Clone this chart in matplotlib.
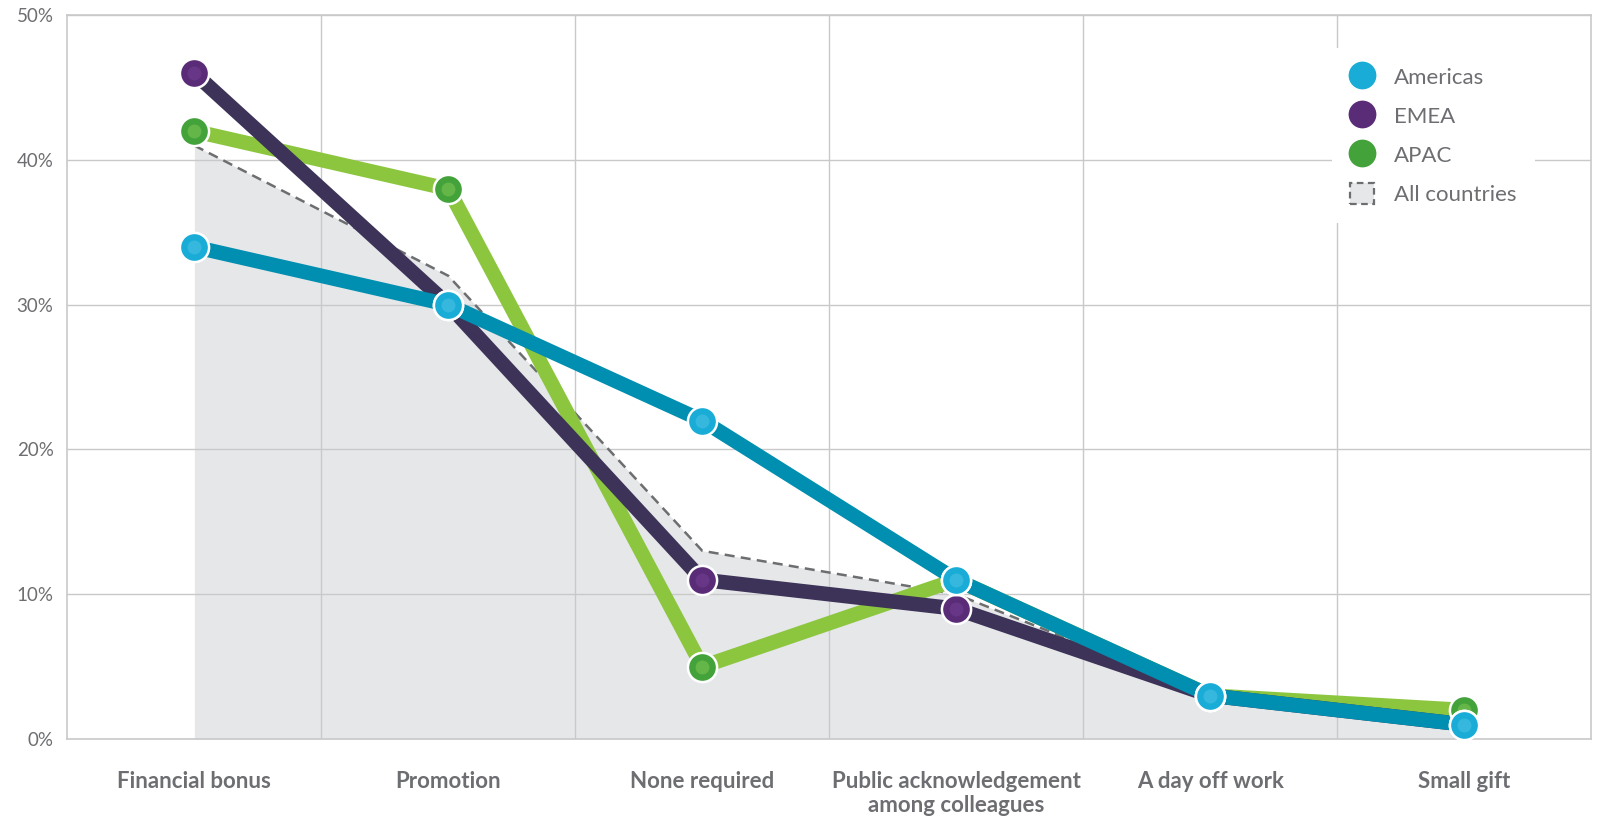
import matplotlib
matplotlib.use('Agg')
import matplotlib.pyplot as plt
from matplotlib.lines import Line2D
from matplotlib.patches import Patch
from matplotlib.ticker import FuncFormatter

# Data (percent)
categories = ['Financial bonus', 'Promotion', 'None required',
              'Public acknowledgement\namong colleagues', 'A day off work', 'Small gift']
americas = [34, 30, 22, 11, 3, 1]
emea = [46, 30, 11, 9, 3, 1]
apac = [42, 38, 5, 11, 3, 2]
all_countries = [41, 32, 13, 10, 3, 1]

TEXT = '#6d6e71'
GRID = '#c9c9c9'

plt.rcParams['font.family'] = ['Lato', 'DejaVu Sans']

fig = plt.figure(figsize=(16.01, 8.17), dpi=100)
ax = fig.add_axes([0.0421, 0.0955, 0.9517, 0.8858])

x = list(range(len(categories)))

# shaded "All countries" area with dashed outline
ax.fill_between(x, 0, all_countries, color='#e6e7e9', lw=0, zorder=1)
ax.plot(x, all_countries, color='#6d6e70', lw=1.8, ls=(0, (4, 2.5)), zorder=2)

series = [
    ('APAC', apac, '#8cc63f', '#43a23a', '#8fcf5a'),
    ('EMEA', emea, '#3d3358', '#5a2c78', '#77449a'),
    ('Americas', americas, '#008fb0', '#18acd6', '#5cc8e8'),
]

for z, (name, vals, lc, mc, hc) in enumerate(series):
    ax.plot(x, vals, color=lc, lw=10.5, solid_capstyle='butt', zorder=3 + z)

for z, (name, vals, lc, mc, hc) in enumerate(series):
    ax.plot(x, vals, ls='none', marker='o', ms=21, mfc=mc, mec='white', mew=1.8, zorder=10 + 2 * z)
    ax.plot(x, vals, ls='none', marker='o', ms=10, mfc=hc, mec='none', alpha=0.45, zorder=11 + 2 * z)

ax.set_xlim(-0.5, 5.5)
ax.set_ylim(0, 50)
ax.set_xticks(x)
ax.set_xticklabels(categories, fontsize=16, fontweight='bold', color=TEXT, linespacing=1.2)
ax.set_yticks(range(0, 51, 10))
ax.yaxis.set_major_formatter(FuncFormatter(lambda v, p: f'{int(v)}%'))
ax.tick_params(axis='y', length=0, labelsize=13.5, labelcolor=TEXT, pad=10)
ax.tick_params(axis='x', length=0, pad=23)

ax.set_axisbelow('line')
ax.grid(axis='y', color=GRID, lw=1)
for xv in [0.5, 1.5, 2.5, 3.5, 4.5]:
    ax.axvline(xv, color=GRID, lw=1, zorder=1.5)
for s in ax.spines.values():
    s.set_color(GRID)
    s.set_linewidth(1.2)

handles = [
    Line2D([], [], ls='none', marker='o', ms=20, mfc='#18acd6', mec='none'),
    Line2D([], [], ls='none', marker='o', ms=20, mfc='#5a2c78', mec='none'),
    Line2D([], [], ls='none', marker='o', ms=20, mfc='#43a23a', mec='none'),
    Patch(facecolor='#e6e7e9', edgecolor='#6d6e70', ls=(0, (3, 2)), lw=1.6),
]
labels = ['Americas', 'EMEA', 'APAC', 'All countries']
leg = ax.legend(handles, labels, loc='upper right', bbox_to_anchor=(0.963, 0.955),
                frameon=True, fontsize=16, labelcolor=TEXT, handlelength=1.1,
                handleheight=1.1, labelspacing=0.76, handletextpad=0.9,
                borderpad=0.8, borderaxespad=0)
leg.get_frame().set_facecolor('white')
leg.get_frame().set_edgecolor('none')
leg.get_frame().set_alpha(1)
leg.set_zorder(30)

fig.savefig('out.png', dpi=100)
